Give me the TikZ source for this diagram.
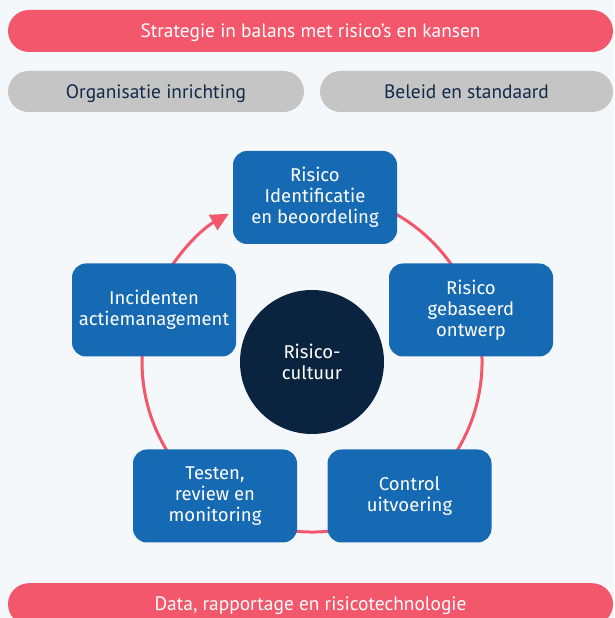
\documentclass[tikz,border=0pt]{standalone}
\usepackage{fontspec}
\setmainfont{Fira Sans}
\newfontfamily\barfont{PT Sans}
\usetikzlibrary{arrows.meta}
\definecolor{bgc}{HTML}{F4F8FB}
\definecolor{pinkc}{HTML}{F2576B}
\definecolor{grayc}{HTML}{C4C5C4}
\definecolor{navyc}{HTML}{12294A}
\definecolor{bluec}{HTML}{156AB3}
\definecolor{darkc}{HTML}{0A2440}
\tikzset{
  bartext/.style={font=\barfont\fontsize{19.4}{22}\selectfont, text height=13.5pt, text depth=0pt},
  pinkbar/.style={fill=pinkc, rounded corners=21pt, minimum height=42pt, text=white,
    bartext, inner sep=0pt},
  graypill/.style={fill=grayc, rounded corners=20.5pt, minimum height=41pt, text=navyc,
    bartext, inner sep=0pt},
  stepbox/.style={fill=bluec, rounded corners=14pt, minimum width=164pt, minimum height=93pt,
    text=white, align=center, font=\fontsize{18.5}{21}\selectfont, inner sep=0pt},
  core/.style={circle, fill=darkc, minimum size=144pt, text=white, align=center,
    font=\fontsize{18.5}{21}\selectfont, inner sep=0pt},
  ring/.style={draw=pinkc, line width=3pt},
}
\begin{document}
\begin{tikzpicture}[x=1pt,y=1pt]
\fill[bgc] (0,0) rectangle (614,618);
\useasboundingbox (0,0) rectangle (614,618);
% bars
\node[pinkbar, minimum width=605pt] (strat) at (310.5,587) {Strategie in balans met risico’s en kansen};
\node[graypill, minimum width=296pt] (org) at (156,526.5) {Organisatie inrichting};
\node[graypill, minimum width=293pt] (bel) at (466.5,526.5) {Beleid en standaard};
\node[pinkbar, minimum width=605pt, anchor=north] (data) at (310.5,35) {};
\node[text=white, bartext, inner sep=0pt] (datat) at (310.5,14) {Data, rapportage en risicotechnologie};
% ring
\coordinate (c) at (312,256);
\draw[ring] ([shift={(117:170pt)}]c) arc[start angle=117, end angle=-210, radius=170pt];
\draw[ring, -{Triangle[length=18pt, width=17pt]}] ([shift={(150:170pt)}]c) arc[start angle=150, end angle=119.3, radius=170pt];
% core
\node[core] (cult) at (c) {Risico-\\cultuur};
% steps
\node[stepbox] (ident) at (315,420.5) {Risico\\Identificatie\\en beoordeling};
\node[stepbox] (ontw) at (471,308) {Risico\\gebaseerd\\ontwerp};
\node[stepbox] (ctrl) at (409.5,122) {Control\\uitvoering};
\node[stepbox] (test) at (215,122) {Testen,\\review en\\monitoring};
\node[stepbox] (inc) at (154,308) {Incidenten\\actiemanagement};
\end{tikzpicture}
\end{document}
